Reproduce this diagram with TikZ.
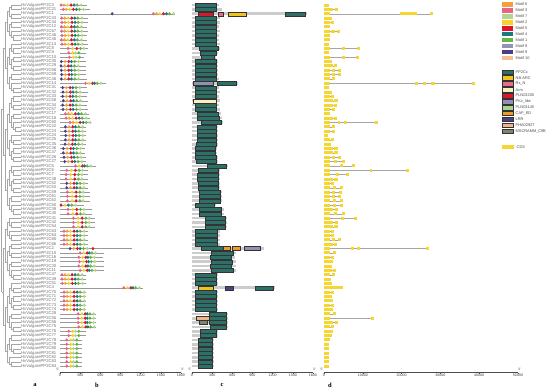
\documentclass[tikz,border=0pt]{standalone}
\usepackage{fontspec}
\setmainfont{Liberation Sans}
\newfontfamily\letterfont{Liberation Serif}
\usepackage{tikz}
\usetikzlibrary{positioning}
% motif colours
\definecolor{m6}{RGB}{245,160,60}
\definecolor{m3}{RGB}{232,100,135}
\definecolor{m7}{RGB}{178,214,140}
\definecolor{m2}{RGB}{250,208,40}
\definecolor{m5}{RGB}{226,16,45}
\definecolor{m4}{RGB}{20,125,120}
\definecolor{m1}{RGB}{104,180,70}
\definecolor{m8}{RGB}{150,146,180}
\definecolor{m9}{RGB}{75,62,135}
\definecolor{m10}{RGB}{248,190,145}
% domain colours
\definecolor{dPP}{RGB}{45,112,104}
\definecolor{dNB}{RGB}{240,195,30}
\definecolor{dRx}{RGB}{230,110,140}
\definecolor{dArm}{RGB}{248,240,190}
\definecolor{dPLa}{RGB}{215,25,45}
\definecolor{dPK}{RGB}{148,144,180}
\definecolor{dPLb}{RGB}{170,212,138}
\definecolor{dCAP}{RGB}{238,155,42}
\definecolor{dLRR}{RGB}{78,63,134}
\definecolor{dPHA}{RGB}{243,180,138}
\definecolor{dMSC}{RGB}{125,135,110}
\definecolor{cdsyellow}{RGB}{246,214,50}

\tikzset{
  treeline/.style={draw=black!35,line width=0.3pt},
  genelab/.style={anchor=west,inner sep=0pt,text=black!55,font=\fontsize{4.2}{4.2}\selectfont},
  backbone/.style={draw=black!40,line width=0.35pt},
  pbar/.style={fill=black!20},
  dombox/.style={draw=black!80,line width=0.3pt},
  cds/.style={fill=cdsyellow},
  intron/.style={draw=black!35,line width=0.35pt},
  axisline/.style={draw=black!70,line width=0.35pt},
  ticklab/.style={anchor=north,inner sep=0.6pt,font=\fontsize{3.6}{3.6}\selectfont,text=black!75},
  endlab/.style={inner sep=0pt,font=\fontsize{3.3}{3.3}\selectfont,text=black!75},
  leglab/.style={anchor=west,inner sep=0pt,font=\fontsize{3.9}{3.9}\selectfont,text=black!70},
  panellab/.style={font=\letterfont\bfseries\fontsize{6.5}{6.5}\selectfont}
}

% motif patterns: motif/position (aa from offset)
\def\patA{3/0,6/45,2/95,5/150,4/195,1/240,7/300}
\def\patB{9/0,6/55,5/110,4/150,1/200,7/255}
\def\patC{3/0,2/70,5/130,1/185,7/235}
\def\patD{3/0,2/60,7/100,1/150}
\def\patE{5/0,2/60,4/110,1/160,7/215}
\def\patS{3/0,2/55,5/105,4/135,1/175,7/230}

% cladogram of leaves #1..#2, joint at x=#3, parent joint at x=#4
\newcommand\subtree[4]{%
  \ifnum#1=#2\relax
    \draw[treeline] (#4,{5+4.35*(#1-1)}) -- (20.5,{5+4.35*(#1-1)});
  \else
    \begingroup
    \pgfmathtruncatemacro\tmid{#1+int((#2-#1)*(mod(#1+#2,2)==0 ? 0.42 : 0.58))}%
    \pgfmathtruncatemacro\tmidb{\tmid+1}%
    \pgfmathsetmacro\txn{#3+1.9}%
    \draw[treeline] (#4,{5+4.35*((#1+#2)/2-1)}) -- (#3,{5+4.35*((#1+#2)/2-1)});
    \draw[treeline] (#3,{5+4.35*((#1+\tmid)/2-1)}) -- (#3,{5+4.35*((\tmidb+#2)/2-1)});
    \edef\next{\noexpand\subtree{#1}{\tmid}{\txn}{#3}\noexpand\subtree{\tmidb}{#2}{\txn}{#3}}%
    \next
    \endgroup
  \fi}

\begin{document}
\begin{tikzpicture}[x=1pt,y=-1pt]
\path[fill=white] (0,0) rectangle (550,391);
\useasboundingbox (0,0) rectangle (550,391);

% a: tree
\subtree{1}{84}{1.5}{1.5}

% rows: label, motifs (b), domains (c), gene structure (d)
\foreach \i/\off/\len/\pat/\gl/\num in {
1/15/400/A/1.4/3, 2/50/450/A/3.6/21, 3/1390/1711/A/28/1, 4/25/410/A/2.0/43, 5/30/410/A/2.6/44,
6/20/400/A/1.5/12, 7/25/410/A/4.2/67, 8/30/400/A/1.6/46, 9/20/400/A/1.6/45, 10/30/410/A/1.4/13,
11/120/420/C/9.3/8, 12/130/380/D/1.3/9, 13/140/360/D/9.0/10, 14/20/380/B/2.0/30, 15/15/390/B/3.4/29,
16/20/380/B/4.3/68, 17/25/390/B/4.3/69, 18/20/400/B/2.9/48, 19/380/680/S/39/14, 20/40/400/B/1.4/31,
21/45/410/B/2.0/32, 22/40/400/B/2.6/33, 23/50/410/B/3.5/58, 24/40/400/B/3.3/34, 25/45/410/B/2.8/57,
26/80/430/A/1.5/17, 27/90/440/A/3.3/18, 28/150/460/A/14/60, 29/80/380/B/2.8/22, 30/80/380/B/2.8/23,
31/85/390/B/1.0/24, 32/80/380/B/2.5/25, 33/75/380/B/1.8/35, 34/50/370/B/3.5/36, 35/50/370/B/3.5/37,
36/60/380/B/4.3/26, 37/70/390/B/5.5/27, 38/230/530/S/8.0/5, 39/100/420/C/22/6, 40/90/410/C/6.5/7,
41/90/410/C/3.5/38, 42/100/420/B/2.5/52, 43/100/420/B/4.8/53, 44/110/450/C/4.6/59, 45/110/450/C/4.3/61,
46/110/450/C/4.8/62, 47/15/360/E/4.8/50, 48/120/480/C/3.7/39, 49/120/480/C/5.5/40, 50/200/520/C/8.5/41,
51/200/520/C/3.7/42, 52/200/520/C/3.5/54, 53/60/420/A/2.5/63, 54/60/420/A/2.5/64, 55/60/420/A/4.3/65,
56/60/420/A/3.3/66, 57/150/1070/B/27/2, 58/300/650/S/3.0/15, 59/280/640/S/2.5/16, 60/290/650/S/2.2/19,
61/280/650/S/2.0/20, 62/300/660/S/3.2/11, 63/30/380/A/2.8/47, 64/30/380/A/1.8/49, 65/35/390/A/2.0/51,
66/950/1240/S/4.8/4, 67/60/380/A/2.5/70, 68/60/380/A/2.0/71, 69/60/380/A/2.2/72, 70/60/380/A/2.6/73,
71/60/380/A/2.4/74, 72/270/530/S/3.0/28, 73/270/530/S/13/55, 74/270/530/S/3.6/56, 75/280/540/S/2.5/75,
76/130/380/D/2.2/76, 77/130/380/D/2.0/77, 78/100/330/D/1.5/78, 79/100/330/D/1.2/79, 80/100/330/D/1.2/80,
81/100/330/D/1.2/81, 82/100/330/D/1.2/82, 83/100/330/D/1.2/83, 84/100/330/D/1.2/84}{
  \pgfmathsetmacro\y{5+4.35*(\i-1)}
  \node[genelab] (g\i) at (21,\y) {HvVulgarePP2C\num};
  % b
  \draw[backbone] (60,\y) -- ({60+\len*0.0672},\y);
  \expandafter\let\expandafter\curpat\csname pat\pat\endcsname
  \foreach \c/\q in \curpat {
    \fill[m\c] ({60+(\off+\q)*0.0672},\y) ellipse (1.45 and 1.75);
  }
  % c
  \pgfmathsetmacro\ds{max(40,\off-10)}
  \pgfmathsetmacro\de{min(\len-25,\ds+320)}
  \fill[pbar] (192,\y-1.3) rectangle ({192+\len*0.0672},\y+1.3);
  \draw[dombox,fill=dPP] ({192+\ds*0.0672},\y-2) rectangle ({192+\de*0.0672},\y+2);
  % d
  \pgfmathsetmacro\gx{324+\gl*3.88}
  \draw[intron] (324,\y) -- (\gx,\y);
  \fill[cds] (324,\y-1.5) rectangle ({324+min(\gl,1.5)*3.88},\y+1.5);
  \fill[cds] ({\gx-min(\gl,0.8)*3.88},\y-1.5) rectangle (\gx,\y+1.5);
  \ifdim\gl pt>3pt \ifdim\gl pt<10pt
    \fill[cds] ({324+(0.55*\gl-0.4)*3.88},\y-1.5) rectangle ({324+(0.55*\gl+0.4)*3.88},\y+1.5);
  \fi\fi
}

% extra motifs
\foreach \i/\q/\c in {3/777/9, 57/490/5}
  \fill[m\c] ({60+\q*0.0672},{5+4.35*(\i-1)}) ellipse (1.45 and 1.75);

% extra domains
\foreach \i/\s/\e/\col in {3/85/315/dPLa, 3/390/460/dRx, 3/540/800/dNB, 19/15/315/dPK,
  23/15/365/dArm, 57/465/570/dCAP, 57/600/720/dCAP, 57/780/1010/dPK, 66/90/315/dNB,
  66/490/610/dLRR, 73/60/255/dPHA, 74/105/225/dMSC}
  \draw[dombox,fill=\col] ({192+\s*0.0672},{5+4.35*(\i-1)-2}) rectangle ({192+\e*0.0672},{5+4.35*(\i-1)+2});

% extra exons (kb)
\foreach \i/\s/\e in {3/19.5/24, 19/23.5/24.2, 19/25.5/26.2, 19/27.5/28.5, 28/3.6/4.2, 28/5.2/6,
  39/11.8/12.4, 57/7/7.8, 57/8.6/9.4, 66/1.5/4.5}
  \fill[cds] ({324+\s*3.88},{5+4.35*(\i-1)-1.5}) rectangle ({324+\e*3.88},{5+4.35*(\i-1)+1.5});

% axes
\draw[axisline] (60,372.5) -- (181,372.5);
\foreach \t in {0,300,...,1800}
  \draw[axisline] ({60+\t*0.0672},372.5) -- ++(0,1.1) node[ticklab] (tb\t) {\t};
\draw[axisline] (192,372.5) -- (313,372.5);
\foreach \t in {0,300,...,1800}
  \draw[axisline] ({192+\t*0.0672},372.5) -- ++(0,1.1) node[ticklab] (tc\t) {\t};
\draw[axisline] (324,372.5) -- (518,372.5);
\foreach \v/\t in {0/0,1/10000,2/20000,3/30000,4/40000,5/50000}
  \draw[axisline] ({324+\v*38.8},372.5) -- ++(0,1.1) node[ticklab] (td\v) {\t};
\foreach \k/\xa/\xb in {b/58/182.5, c/190/314.5, d/322/519.5}{
  \node[endlab] (s\k) at (\xa,369.6) {5'};
  \node[endlab] (e\k) at (\xb,369.6) {3'};
}

% panel letters
\node[panellab] (pa) at (35,385) {a};
\node[panellab] (pb) at (97,385) {b};
\node[panellab] (pc) at (222,385) {c};
\node[panellab] (pd) at (330,385) {d};

% legends
\foreach \k/\c in {0/6,1/3,2/7,3/2,4/5,5/4,6/1,7/8,8/9,9/10}{
  \fill[m\c] (502,{4.5+5.95*\k-2.2}) rectangle (513,{4.5+5.95*\k+2.2});
  \node[leglab] (lm\c) at (515.5,{4.5+5.95*\k}) {Motif \c};
}
\foreach \k/\col/\t in {0/dPP/PP2Cc, 1/dNB/NB-ARC, 2/dRx/Rx\_N, 3/dArm/Arm, 4/dPLa/PLN03200,
  5/dPK/PKc\_like, 6/dPLb/PLN03145, 7/dCAP/CAP\_ED, 8/dLRR/LRR, 9/dPHA/PHA02927, 10/dMSC/MSCRAMM\_ClfB}{
  \draw[dombox,fill=\col] (502,{72+5.9*\k-2.3}) rectangle (513,{72+5.9*\k+2.3});
  \node[leglab] (ld\k) at (515.5,{72+5.9*\k}) {\t};
}
\fill[cds] (502,145) rectangle (514,149.4);
\node[leglab] (lcds) at (516.5,147.2) {CDS};
\end{tikzpicture}
\end{document}
